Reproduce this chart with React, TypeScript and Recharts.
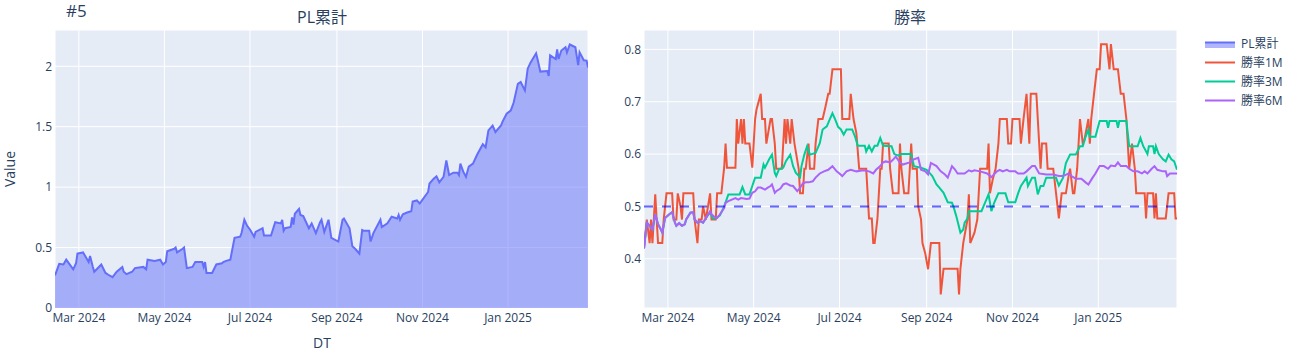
import React from 'react';
import { ComposedChart, Area, Line, XAxis, YAxis, CartesianGrid, ReferenceLine } from 'recharts';

type Pt = [string, number];

const plCumulative: Pt[] = [
  ["2024-02-13",0.27],["2024-02-16",0.365],["2024-02-19",0.36],["2024-02-21",0.40],["2024-02-26",0.32],["2024-02-28",0.37],["2024-02-29",0.45],["2024-03-04",0.46],["2024-03-05",0.44],["2024-03-08",0.38],["2024-03-09",0.43],["2024-03-11",0.34],["2024-03-12",0.30],["2024-03-17",0.36],["2024-03-20",0.29],["2024-03-22",0.275],["2024-03-25",0.255],["2024-03-26",0.27],["2024-03-28",0.30],["2024-04-01",0.34],["2024-04-02",0.30],["2024-04-04",0.28],["2024-04-08",0.30],["2024-04-10",0.33],["2024-04-16",0.34],["2024-04-18",0.32],["2024-04-19",0.40],["2024-04-24",0.39],["2024-04-28",0.40],["2024-04-30",0.36],["2024-05-02",0.38],["2024-05-03",0.47],["2024-05-08",0.49],["2024-05-09",0.50],["2024-05-10",0.46],["2024-05-14",0.49],["2024-05-15",0.50],["2024-05-17",0.33],["2024-05-21",0.34],["2024-05-23",0.38],["2024-05-28",0.38],["2024-05-29",0.34],["2024-05-30",0.38],["2024-05-31",0.29],["2024-06-04",0.29],["2024-06-07",0.36],["2024-06-11",0.37],["2024-06-12",0.38],["2024-06-14",0.39],["2024-06-17",0.40],["2024-06-20",0.58],["2024-06-24",0.59],["2024-06-25",0.62],["2024-06-27",0.73],["2024-06-29",0.68],["2024-07-01",0.65],["2024-07-04",0.59],["2024-07-05",0.63],["2024-07-10",0.66],["2024-07-11",0.60],["2024-07-16",0.60],["2024-07-19",0.71],["2024-07-23",0.70],["2024-07-24",0.73],["2024-07-25",0.64],["2024-07-26",0.66],["2024-07-30",0.67],["2024-07-31",0.75],["2024-08-01",0.69],["2024-08-02",0.78],["2024-08-05",0.82],["2024-08-06",0.77],["2024-08-08",0.76],["2024-08-12",0.66],["2024-08-14",0.70],["2024-08-17",0.62],["2024-08-20",0.71],["2024-08-21",0.73],["2024-08-23",0.63],["2024-08-26",0.73],["2024-08-28",0.58],["2024-09-02",0.55],["2024-09-05",0.73],["2024-09-06",0.74],["2024-09-10",0.66],["2024-09-12",0.51],["2024-09-14",0.49],["2024-09-17",0.45],["2024-09-19",0.645],["2024-09-20",0.64],["2024-09-24",0.64],["2024-09-25",0.55],["2024-09-27",0.62],["2024-10-02",0.73],["2024-10-03",0.67],["2024-10-07",0.70],["2024-10-10",0.755],["2024-10-14",0.74],["2024-10-15",0.77],["2024-10-16",0.73],["2024-10-18",0.775],["2024-10-21",0.79],["2024-10-24",0.80],["2024-10-25",0.88],["2024-10-28",0.89],["2024-10-30",0.865],["2024-10-31",0.88],["2024-11-05",0.96],["2024-11-06",1.03],["2024-11-09",1.07],["2024-11-11",1.09],["2024-11-13",1.04],["2024-11-16",1.085],["2024-11-18",1.22],["2024-11-20",1.10],["2024-11-23",1.12],["2024-11-26",1.12],["2024-11-27",1.10],["2024-11-28",1.195],["2024-11-30",1.13],["2024-12-02",1.085],["2024-12-04",1.17],["2024-12-07",1.195],["2024-12-10",1.27],["2024-12-14",1.355],["2024-12-16",1.33],["2024-12-18",1.47],["2024-12-21",1.51],["2024-12-23",1.456],["2024-12-27",1.51],["2024-12-28",1.54],["2024-12-31",1.607],["2025-01-03",1.635],["2025-01-05",1.70],["2025-01-08",1.855],["2025-01-10",1.87],["2025-01-13",1.80],["2025-01-15",1.98],["2025-01-17",2.03],["2025-01-21",2.107],["2025-01-22",2.06],["2025-01-24",1.956],["2025-01-29",1.96],["2025-01-30",1.92],["2025-01-31",2.09],["2025-02-04",2.06],["2025-02-05",2.14],["2025-02-06",2.06],["2025-02-08",2.13],["2025-02-11",2.157],["2025-02-12",2.115],["2025-02-14",2.18],["2025-02-18",2.157],["2025-02-20",2.01],["2025-02-21",2.115],["2025-02-24",2.05],["2025-02-26",2.047],["2025-02-27",1.99]
];

const winRate1M: Pt[] = [
  ["2024-02-13",0.42],["2024-02-15",0.475],["2024-02-17",0.43],["2024-02-18",0.475],["2024-02-19",0.43],["2024-02-21",0.523],["2024-02-22",0.475],["2024-02-23",0.43],["2024-02-26",0.43],["2024-02-27",0.475],["2024-02-29",0.525],["2024-03-04",0.525],["2024-03-05",0.475],["2024-03-07",0.475],["2024-03-08",0.525],["2024-03-10",0.50],["2024-03-11",0.475],["2024-03-12",0.525],["2024-03-19",0.525],["2024-03-20",0.475],["2024-03-22",0.43],["2024-03-23",0.475],["2024-03-25",0.475],["2024-03-26",0.50],["2024-03-28",0.475],["2024-03-31",0.525],["2024-04-01",0.475],["2024-04-04",0.475],["2024-04-05",0.525],["2024-04-08",0.525],["2024-04-10",0.574],["2024-04-11",0.62],["2024-04-12",0.574],["2024-04-18",0.574],["2024-04-19",0.667],["2024-04-20",0.62],["2024-04-22",0.667],["2024-04-23",0.62],["2024-04-24",0.667],["2024-04-25",0.62],["2024-04-28",0.62],["2024-04-30",0.574],["2024-05-02",0.667],["2024-05-03",0.685],["2024-05-06",0.715],["2024-05-07",0.667],["2024-05-09",0.667],["2024-05-10",0.62],["2024-05-13",0.667],["2024-05-14",0.667],["2024-05-16",0.62],["2024-05-17",0.572],["2024-05-21",0.572],["2024-05-22",0.62],["2024-05-23",0.667],["2024-05-24",0.62],["2024-05-25",0.667],["2024-05-27",0.62],["2024-05-28",0.667],["2024-05-30",0.62],["2024-06-02",0.572],["2024-06-03",0.525],["2024-06-05",0.525],["2024-06-06",0.572],["2024-06-07",0.572],["2024-06-09",0.62],["2024-06-10",0.572],["2024-06-13",0.572],["2024-06-14",0.62],["2024-06-15",0.644],["2024-06-16",0.667],["2024-06-19",0.667],["2024-06-21",0.69],["2024-06-23",0.715],["2024-06-24",0.715],["2024-06-26",0.762],["2024-07-02",0.762],["2024-07-03",0.667],["2024-07-08",0.667],["2024-07-09",0.715],["2024-07-11",0.667],["2024-07-13",0.64],["2024-07-15",0.572],["2024-07-20",0.572],["2024-07-21",0.525],["2024-07-22",0.477],["2024-07-24",0.477],["2024-07-25",0.43],["2024-07-26",0.43],["2024-07-27",0.453],["2024-07-28",0.477],["2024-07-30",0.572],["2024-07-31",0.572],["2024-08-01",0.62],["2024-08-05",0.62],["2024-08-06",0.572],["2024-08-08",0.525],["2024-08-12",0.525],["2024-08-13",0.62],["2024-08-14",0.572],["2024-08-16",0.525],["2024-08-19",0.525],["2024-08-20",0.572],["2024-08-21",0.62],["2024-08-22",0.572],["2024-08-25",0.572],["2024-08-26",0.50],["2024-08-28",0.475],["2024-08-29",0.43],["2024-08-31",0.41],["2024-09-02",0.38],["2024-09-04",0.43],["2024-09-10",0.43],["2024-09-11",0.332],["2024-09-13",0.381],["2024-09-23",0.381],["2024-09-24",0.332],["2024-09-25",0.381],["2024-09-27",0.43],["2024-09-30",0.475],["2024-10-01",0.523],["2024-10-02",0.43],["2024-10-05",0.45],["2024-10-07",0.475],["2024-10-09",0.572],["2024-10-14",0.572],["2024-10-15",0.62],["2024-10-16",0.525],["2024-10-18",0.552],["2024-10-20",0.572],["2024-10-22",0.62],["2024-10-23",0.667],["2024-10-28",0.667],["2024-10-29",0.62],["2024-10-31",0.62],["2024-11-01",0.667],["2024-11-06",0.667],["2024-11-07",0.62],["2024-11-09",0.67],["2024-11-11",0.715],["2024-11-13",0.62],["2024-11-14",0.715],["2024-11-18",0.715],["2024-11-20",0.62],["2024-11-21",0.572],["2024-11-22",0.62],["2024-11-25",0.62],["2024-11-26",0.572],["2024-11-30",0.572],["2024-12-02",0.525],["2024-12-04",0.477],["2024-12-06",0.525],["2024-12-09",0.525],["2024-12-11",0.56],["2024-12-12",0.572],["2024-12-14",0.525],["2024-12-15",0.525],["2024-12-17",0.572],["2024-12-19",0.667],["2024-12-21",0.62],["2024-12-22",0.625],["2024-12-25",0.667],["2024-12-26",0.62],["2024-12-27",0.667],["2024-12-29",0.715],["2024-12-31",0.762],["2025-01-02",0.762],["2025-01-03",0.81],["2025-01-07",0.81],["2025-01-09",0.762],["2025-01-10",0.81],["2025-01-12",0.762],["2025-01-15",0.762],["2025-01-17",0.715],["2025-01-19",0.715],["2025-01-21",0.667],["2025-01-22",0.62],["2025-01-23",0.572],["2025-01-25",0.62],["2025-01-27",0.572],["2025-01-28",0.525],["2025-02-03",0.525],["2025-02-04",0.477],["2025-02-05",0.525],["2025-02-09",0.525],["2025-02-10",0.477],["2025-02-11",0.525],["2025-02-12",0.477],["2025-02-18",0.477],["2025-02-20",0.525],["2025-02-24",0.525],["2025-02-25",0.477],["2025-02-26",0.477]
];

const winRate3M: Pt[] = [
  ["2024-02-13",0.42],["2024-02-15",0.469],["2024-02-17",0.463],["2024-02-19",0.456],["2024-02-21",0.485],["2024-02-23",0.466],["2024-02-25",0.456],["2024-02-26",0.45],["2024-02-28",0.478],["2024-03-02",0.485],["2024-03-04",0.489],["2024-03-06",0.469],["2024-03-07",0.463],["2024-03-09",0.468],["2024-03-11",0.463],["2024-03-13",0.466],["2024-03-14",0.475],["2024-03-17",0.488],["2024-03-19",0.489],["2024-03-20",0.475],["2024-03-22",0.469],["2024-03-24",0.472],["2024-03-26",0.469],["2024-03-29",0.482],["2024-03-31",0.488],["2024-04-02",0.477],["2024-04-04",0.477],["2024-04-07",0.483],["2024-04-10",0.50],["2024-04-13",0.523],["2024-04-21",0.523],["2024-04-23",0.537],["2024-04-25",0.523],["2024-04-28",0.523],["2024-04-30",0.539],["2024-05-02",0.555],["2024-05-06",0.555],["2024-05-08",0.58],["2024-05-09",0.574],["2024-05-12",0.59],["2024-05-14",0.599],["2024-05-16",0.564],["2024-05-17",0.558],["2024-05-19",0.571],["2024-05-22",0.574],["2024-05-24",0.587],["2024-05-27",0.599],["2024-05-29",0.577],["2024-05-31",0.564],["2024-06-03",0.556],["2024-06-04",0.577],["2024-06-06",0.599],["2024-06-08",0.615],["2024-06-10",0.599],["2024-06-14",0.602],["2024-06-17",0.621],["2024-06-19",0.647],["2024-06-22",0.653],["2024-06-24",0.666],["2024-06-26",0.678],["2024-06-28",0.666],["2024-06-30",0.652],["2024-07-02",0.647],["2024-07-04",0.637],["2024-07-06",0.647],["2024-07-10",0.647],["2024-07-12",0.634],["2024-07-14",0.616],["2024-07-19",0.616],["2024-07-20",0.605],["2024-07-22",0.616],["2024-07-24",0.605],["2024-07-26",0.616],["2024-07-28",0.616],["2024-07-30",0.631],["2024-08-01",0.616],["2024-08-07",0.615],["2024-08-09",0.60],["2024-08-12",0.597],["2024-08-14",0.60],["2024-08-21",0.60],["2024-08-23",0.577],["2024-08-28",0.574],["2024-09-01",0.57],["2024-09-03",0.564],["2024-09-05",0.558],["2024-09-08",0.542],["2024-09-10",0.536],["2024-09-13",0.526],["2024-09-16",0.508],["2024-09-19",0.507],["2024-09-20",0.50],["2024-09-22",0.482],["2024-09-25",0.45],["2024-09-27",0.456],["2024-09-28",0.469],["2024-09-30",0.477],["2024-10-01",0.491],["2024-10-10",0.491],["2024-10-12",0.504],["2024-10-15",0.523],["2024-10-17",0.491],["2024-10-19",0.507],["2024-10-22",0.525],["2024-10-27",0.525],["2024-10-29",0.508],["2024-11-03",0.508],["2024-11-05",0.525],["2024-11-07",0.539],["2024-11-11",0.555],["2024-11-12",0.539],["2024-11-15",0.555],["2024-11-17",0.555],["2024-11-19",0.523],["2024-11-21",0.539],["2024-11-23",0.539],["2024-11-25",0.555],["2024-12-02",0.555],["2024-12-04",0.54],["2024-12-07",0.555],["2024-12-09",0.583],["2024-12-12",0.599],["2024-12-16",0.599],["2024-12-19",0.615],["2024-12-21",0.615],["2024-12-23",0.633],["2024-12-25",0.647],["2024-12-26",0.633],["2024-12-30",0.633],["2025-01-02",0.663],["2025-01-07",0.663],["2025-01-08",0.65],["2025-01-09",0.663],["2025-01-14",0.663],["2025-01-15",0.65],["2025-01-16",0.663],["2025-01-21",0.663],["2025-01-23",0.615],["2025-01-29",0.615],["2025-01-31",0.631],["2025-02-02",0.615],["2025-02-05",0.60],["2025-02-06",0.615],["2025-02-09",0.615],["2025-02-10",0.60],["2025-02-11",0.615],["2025-02-13",0.60],["2025-02-16",0.59],["2025-02-18",0.586],["2025-02-20",0.599],["2025-02-22",0.59],["2025-02-24",0.586],["2025-02-26",0.57]
];

const winRate6M: Pt[] = [
  ["2024-02-13",0.42],["2024-02-15",0.469],["2024-02-17",0.463],["2024-02-19",0.456],["2024-02-21",0.485],["2024-02-23",0.466],["2024-02-25",0.456],["2024-02-26",0.45],["2024-02-28",0.478],["2024-03-02",0.485],["2024-03-04",0.489],["2024-03-06",0.469],["2024-03-07",0.463],["2024-03-09",0.468],["2024-03-11",0.463],["2024-03-13",0.466],["2024-03-14",0.475],["2024-03-17",0.488],["2024-03-19",0.489],["2024-03-20",0.475],["2024-03-22",0.469],["2024-03-24",0.472],["2024-03-26",0.469],["2024-03-29",0.482],["2024-03-31",0.491],["2024-04-01",0.485],["2024-04-04",0.478],["2024-04-05",0.478],["2024-04-07",0.485],["2024-04-10",0.497],["2024-04-11",0.507],["2024-04-13",0.51],["2024-04-18",0.516],["2024-04-20",0.513],["2024-04-22",0.516],["2024-04-26",0.514],["2024-04-28",0.515],["2024-04-30",0.526],["2024-05-02",0.529],["2024-05-04",0.536],["2024-05-06",0.536],["2024-05-09",0.532],["2024-05-11",0.536],["2024-05-13",0.539],["2024-05-14",0.542],["2024-05-16",0.526],["2024-05-17",0.529],["2024-05-20",0.534],["2024-05-22",0.542],["2024-05-24",0.544],["2024-05-27",0.54],["2024-05-29",0.539],["2024-06-01",0.529],["2024-06-03",0.536],["2024-06-05",0.544],["2024-06-07",0.546],["2024-06-09",0.546],["2024-06-12",0.548],["2024-06-14",0.555],["2024-06-17",0.563],["2024-06-20",0.567],["2024-06-23",0.57],["2024-06-26",0.577],["2024-06-29",0.567],["2024-07-01",0.563],["2024-07-03",0.558],["2024-07-06",0.567],["2024-07-09",0.57],["2024-07-13",0.567],["2024-07-18",0.569],["2024-07-22",0.567],["2024-07-25",0.563],["2024-07-27",0.57],["2024-07-30",0.577],["2024-08-01",0.584],["2024-08-03",0.586],["2024-08-06",0.584],["2024-08-08",0.589],["2024-08-10",0.595],["2024-08-13",0.584],["2024-08-15",0.58],["2024-08-20",0.584],["2024-08-22",0.589],["2024-08-26",0.593],["2024-08-28",0.57],["2024-08-31",0.567],["2024-09-02",0.561],["2024-09-04",0.583],["2024-09-08",0.577],["2024-09-11",0.567],["2024-09-14",0.561],["2024-09-16",0.555],["2024-09-19",0.577],["2024-09-21",0.571],["2024-09-23",0.563],["2024-09-28",0.563],["2024-10-01",0.569],["2024-10-03",0.567],["2024-10-05",0.569],["2024-10-09",0.567],["2024-10-14",0.563],["2024-10-17",0.556],["2024-10-21",0.567],["2024-10-23",0.57],["2024-10-25",0.567],["2024-10-28",0.57],["2024-10-30",0.567],["2024-11-03",0.567],["2024-11-05",0.563],["2024-11-09",0.563],["2024-11-11",0.567],["2024-11-15",0.577],["2024-11-17",0.577],["2024-11-20",0.563],["2024-11-25",0.561],["2024-11-30",0.561],["2024-12-04",0.558],["2024-12-07",0.558],["2024-12-11",0.563],["2024-12-13",0.558],["2024-12-16",0.553],["2024-12-20",0.553],["2024-12-23",0.546],["2024-12-25",0.542],["2024-12-28",0.555],["2024-12-30",0.563],["2025-01-02",0.577],["2025-01-05",0.577],["2025-01-08",0.572],["2025-01-10",0.578],["2025-01-13",0.577],["2025-01-15",0.584],["2025-01-17",0.577],["2025-01-21",0.577],["2025-01-23",0.572],["2025-01-26",0.567],["2025-01-29",0.567],["2025-02-01",0.563],["2025-02-03",0.567],["2025-02-05",0.563],["2025-02-08",0.572],["2025-02-10",0.577],["2025-02-12",0.57],["2025-02-16",0.567],["2025-02-18",0.567],["2025-02-19",0.558],["2025-02-21",0.563],["2025-02-26",0.563]
];

const xTickDates = ["2024-03-01", "2024-05-01", "2024-07-01", "2024-09-01", "2024-11-01", "2025-01-01"];
const xTickLabels = ["Mar 2024", "May 2024", "Jul 2024", "Sep 2024", "Nov 2024", "Jan 2025"];
const plYTicks = [0, 0.5, 1, 1.5, 2];
const plYDomain = [0, 2.3];
const winYTicks = [0.4, 0.5, 0.6, 0.7, 0.8];
const winYDomain = [0.306, 0.837];
const winThreshold = 0.5;

const seriesNames = ["PL累計", "勝率1M", "勝率3M", "勝率6M"];
const seriesColors = ["#636efa", "#EF553B", "#00cc96", "#ab63fa"];

const FONT = '"Open Sans", "Noto Sans CJK JP", verdana, arial, sans-serif';
const TEXT = '#2a3f5f';
const BG = '#E5ECF6';

const toRows = (pts: Pt[]) => pts.map(([d, v]) => ({ t: Date.parse(d), v }));
const plRows = toRows(plCumulative);
const r1 = toRows(winRate1M);
const r3 = toRows(winRate3M);
const r6 = toRows(winRate6M);
const xTicks = xTickDates.map((d) => Date.parse(d));
const fmtX = (t: number) => {
  const i = xTicks.indexOf(t);
  return i >= 0 ? xTickLabels[i] : '';
};
const span = (rowsList: { t: number }[][]) => {
  const all = rowsList.flat().map((r) => r.t);
  return [Math.min(...all), Math.max(...all)];
};
const plDomain = span([plRows]);
const winDomain = span([r1, r3, r6]);

const tickStyle = { fill: TEXT, fontSize: 12, fontFamily: FONT };
const margin = { top: 30, right: 12, bottom: 22, left: 0 };

const Txt = ({ x, y, size, children, rotate }: any) => (
  <div
    style={{
      position: 'absolute', left: x, top: y, fontSize: size, color: TEXT, fontFamily: FONT,
      whiteSpace: 'nowrap', lineHeight: 1,
      transform: `translate(-50%, -50%)${rotate ? ` rotate(${rotate}deg)` : ''}`,
    }}
  >
    {children}
  </div>
);

export default function App() {
  return (
    <div style={{ position: 'absolute', left: 0, top: 0, width: 1298, height: 360, background: '#fff', overflow: 'hidden' }}>
      <div style={{ position: 'absolute', left: 0, top: 0 }}>
        <ComposedChart width={600} height={360} data={plRows} margin={margin}>
          <CartesianGrid stroke="#fff" strokeWidth={1} fill={BG} fillOpacity={1} />
          <XAxis
            dataKey="t" type="number" domain={plDomain} allowDataOverflow ticks={xTicks} tickFormatter={fmtX}
            interval={0} axisLine={false} tickLine={false} tickSize={0} tickMargin={5} height={30} tick={tickStyle}
          />
          <YAxis
            type="number" domain={plYDomain} ticks={plYTicks} allowDataOverflow width={55}
            axisLine={false} tickLine={false} tickSize={0} tickMargin={3} tick={tickStyle}
          />
          <Area
            type="linear" dataKey="v" stroke={seriesColors[0]} strokeWidth={2} fill={seriesColors[0]} fillOpacity={0.5}
            isAnimationActive={false} dot={false} activeDot={false}
          />
        </ComposedChart>
      </div>
      <div style={{ position: 'absolute', left: 589, top: 0 }}>
        <ComposedChart width={600} height={360} margin={margin}>
          <CartesianGrid stroke="#fff" strokeWidth={1} fill={BG} fillOpacity={1} />
          <XAxis
            dataKey="t" type="number" domain={winDomain} allowDataOverflow ticks={xTicks} tickFormatter={fmtX}
            interval={0} axisLine={false} tickLine={false} tickSize={0} tickMargin={5} height={30} tick={tickStyle}
          />
          <YAxis
            type="number" domain={winYDomain} ticks={winYTicks} allowDataOverflow width={55}
            axisLine={false} tickLine={false} tickSize={0} tickMargin={3} tick={tickStyle}
          />
          <Line data={r1} type="linear" dataKey="v" stroke={seriesColors[1]} strokeWidth={2} dot={false} activeDot={false} isAnimationActive={false} />
          <Line data={r3} type="linear" dataKey="v" stroke={seriesColors[2]} strokeWidth={2} dot={false} activeDot={false} isAnimationActive={false} />
          <Line data={r6} type="linear" dataKey="v" stroke={seriesColors[3]} strokeWidth={2} dot={false} activeDot={false} isAnimationActive={false} />
          <ReferenceLine y={winThreshold} stroke="#0000ff" strokeOpacity={0.6} strokeWidth={2} strokeDasharray="9 9" />
        </ComposedChart>
      </div>

      <div style={{ position: 'absolute', left: 66, top: 10, transform: 'translateY(-50%)', fontSize: 17, color: TEXT, fontFamily: FONT, lineHeight: 1 }}>#5</div>
      <Txt x={322} y={17} size={16}>{'PL累計'}</Txt>
      <Txt x={910} y={17} size={16}>{'勝率'}</Txt>
      <Txt x={10} y={169} size={14} rotate={-90}>Value</Txt>
      <Txt x={322} y={343} size={14}>DT</Txt>

      <div style={{ position: 'absolute', left: 1205, top: 34, fontFamily: FONT, fontSize: 12, color: TEXT }}>
        {seriesNames.map((name, i) => (
          <div key={name} style={{ display: 'flex', alignItems: 'center', height: 19 }}>
            <svg width={36} height={19} style={{ display: 'block' }}>
              {i === 0 ? (
                <g>
                  <rect x={0} y={8} width={30} height={6} fill={seriesColors[0]} fillOpacity={0.5} />
                  <line x1={0} y1={8.5} x2={30} y2={8.5} stroke={seriesColors[0]} strokeWidth={2} />
                </g>
              ) : (
                <line x1={0} y1={9.5} x2={30} y2={9.5} stroke={seriesColors[i]} strokeWidth={2} />
              )}
            </svg>
            <span style={{ lineHeight: 1 }}>{name}</span>
          </div>
        ))}
      </div>
    </div>
  );
}
